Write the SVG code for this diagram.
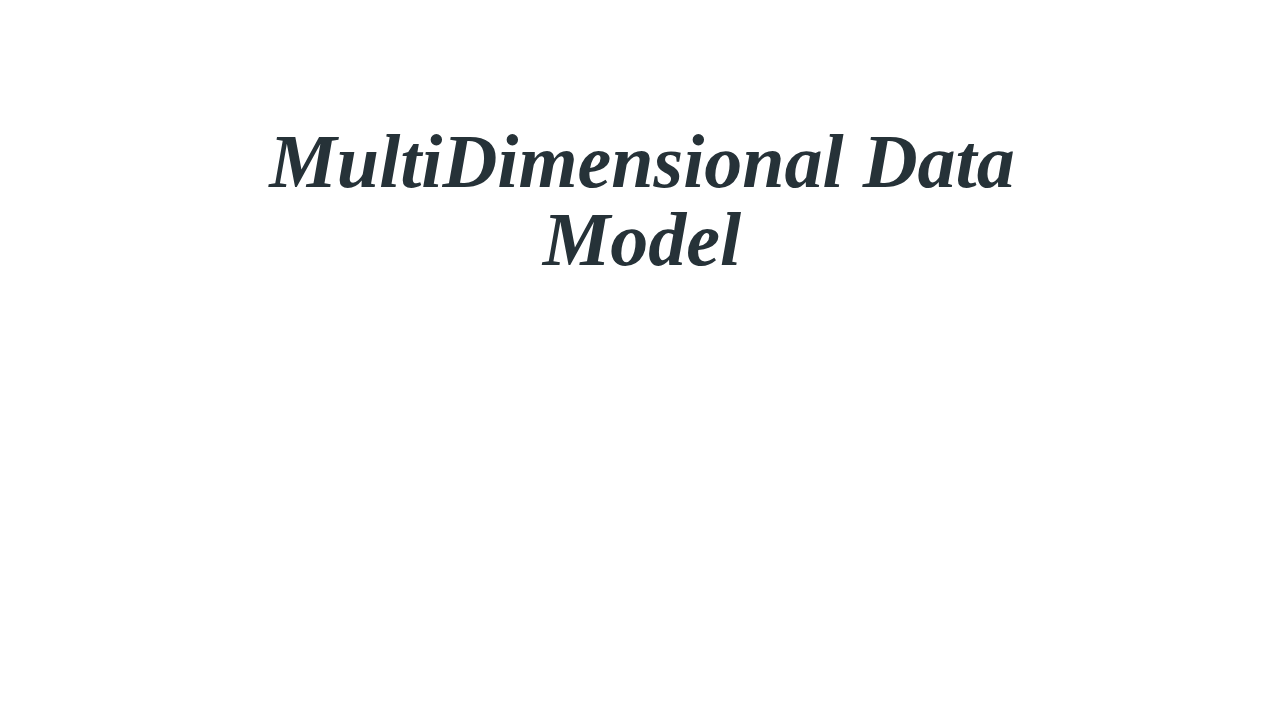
<svg xmlns="http://www.w3.org/2000/svg" width="1280" height="720" viewBox="0 0 1280 720">
<style>
.title{font-family:"Liberation Serif","DejaVu Serif",serif;font-style:italic;font-weight:bold;font-size:76px;fill:#263238;text-anchor:middle}
</style>
<rect width="1280" height="720" fill="#ffffff"/>
<g id="title">
<text class="title" x="642" y="187">MultiDimensional Data</text>
<text class="title" x="642" y="265">Model</text>
</g>
</svg>
